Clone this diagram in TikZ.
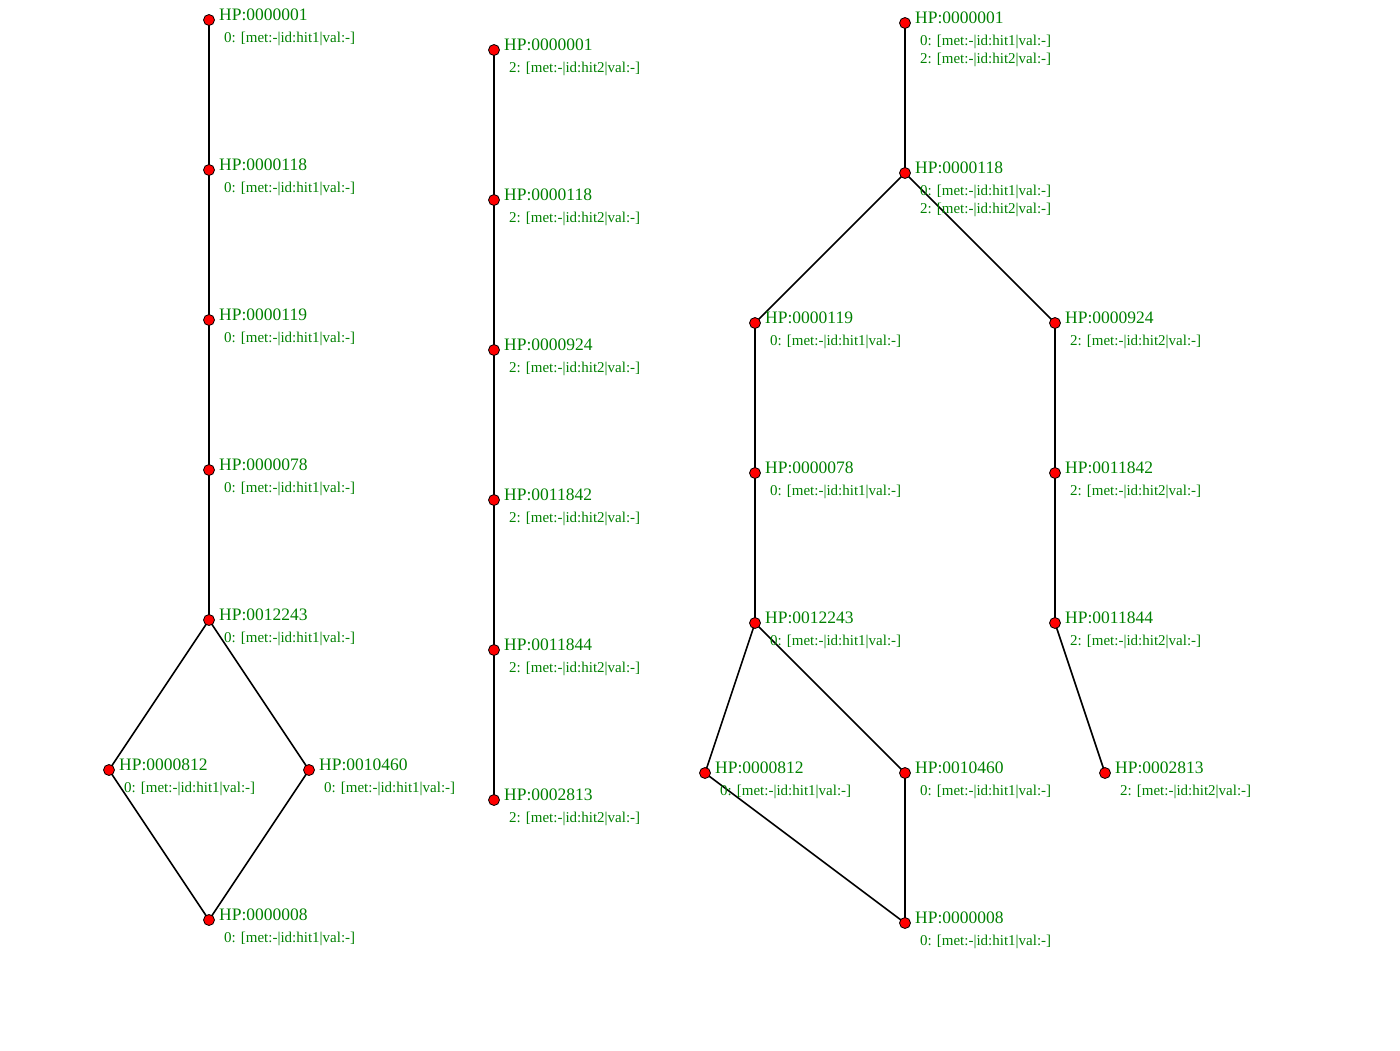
\documentclass[tikz,border=0pt]{standalone}
\usepackage{fontspec}
\setmainfont{Liberation Serif}
\usetikzlibrary{backgrounds}
\definecolor{lblgreen}{RGB}{0,128,0}
\tikzset{
  hp/.style={circle,draw=black,fill=red,line width=0.8pt,minimum size=11pt,inner sep=0pt},
  ttl/.style={anchor=base west,inner sep=0pt,text=lblgreen,font=\fontsize{17.5}{17.5}\selectfont},
  det/.style={anchor=base west,inner sep=0pt,text=lblgreen,font=\fontsize{15}{18}\selectfont},
  edge/.style={draw=black,line width=1.6pt}
}
\newcommand{\hpnode}[5]{% name, x, y, title, details
  \node[hp] (#1) at (#2,#3) {};
  \node[ttl] (#1t) at (#2+10,#3) {#4};
  \node[det] (#1d) at (#2+15,#3+22.5) {#5};
}
\newcommand{\hpextra}[3]{% name, x, y : second detail line
  \node[det] (#1e) at (#2+15,#3+40.5) {2: [met:-|id:hit2|val:-]};
}
\begin{document}
\begin{tikzpicture}[x=1pt,y=-1pt]
\useasboundingbox (0,-1) rectangle (1400,1049);
\def\ha{0: [met:-|id:hit1|val:-]}
\def\hb{2: [met:-|id:hit2|val:-]}
% left graph
\hpnode{la}{209}{19}{HP:0000001}{\ha}
\hpnode{lb}{209}{169}{HP:0000118}{\ha}
\hpnode{lc}{209}{319}{HP:0000119}{\ha}
\hpnode{ld}{209}{469}{HP:0000078}{\ha}
\hpnode{le}{209}{619}{HP:0012243}{\ha}
\hpnode{lf}{109}{769}{HP:0000812}{\ha}
\hpnode{lg}{309}{769}{HP:0010460}{\ha}
\hpnode{lh}{209}{919}{HP:0000008}{\ha}
% middle graph
\hpnode{ma}{494}{49}{HP:0000001}{\hb}
\hpnode{mb}{494}{199}{HP:0000118}{\hb}
\hpnode{mc}{494}{349}{HP:0000924}{\hb}
\hpnode{md}{494}{499}{HP:0011842}{\hb}
\hpnode{me}{494}{649}{HP:0011844}{\hb}
\hpnode{mf}{494}{799}{HP:0002813}{\hb}
% right graph
\hpnode{ra}{905}{22}{HP:0000001}{\ha}
\hpextra{ra}{905}{22}
\hpnode{rb}{905}{172}{HP:0000118}{\ha}
\hpextra{rb}{905}{172}
\hpnode{rc}{755}{322}{HP:0000119}{\ha}
\hpnode{rd}{1055}{322}{HP:0000924}{\hb}
\hpnode{re}{755}{472}{HP:0000078}{\ha}
\hpnode{rf}{1055}{472}{HP:0011842}{\hb}
\hpnode{rg}{755}{622}{HP:0012243}{\ha}
\hpnode{rh}{1055}{622}{HP:0011844}{\hb}
\hpnode{ri}{705}{772}{HP:0000812}{\ha}
\hpnode{rj}{905}{772}{HP:0010460}{\ha}
\hpnode{rk}{1105}{772}{HP:0002813}{\hb}
\hpnode{rl}{905}{922}{HP:0000008}{\ha}
% edges (drawn behind the nodes)
\begin{scope}[on background layer]
\draw[edge] (la.center) -- (lb.center) -- (lc.center) -- (ld.center) -- (le.center);
\draw[edge] (le.center) -- (lf.center) -- (lh.center);
\draw[edge] (le.center) -- (lg.center) -- (lh.center);
\draw[edge] (ma.center) -- (mb.center) -- (mc.center) -- (md.center) -- (me.center) -- (mf.center);
\draw[edge] (ra.center) -- (rb.center);
\draw[edge] (rb.center) -- (rc.center) -- (re.center) -- (rg.center);
\draw[edge] (rg.center) -- (ri.center) -- (rl.center);
\draw[edge] (rg.center) -- (rj.center) -- (rl.center);
\draw[edge] (rb.center) -- (rd.center) -- (rf.center) -- (rh.center) -- (rk.center);
\end{scope}
\end{tikzpicture}
\end{document}
